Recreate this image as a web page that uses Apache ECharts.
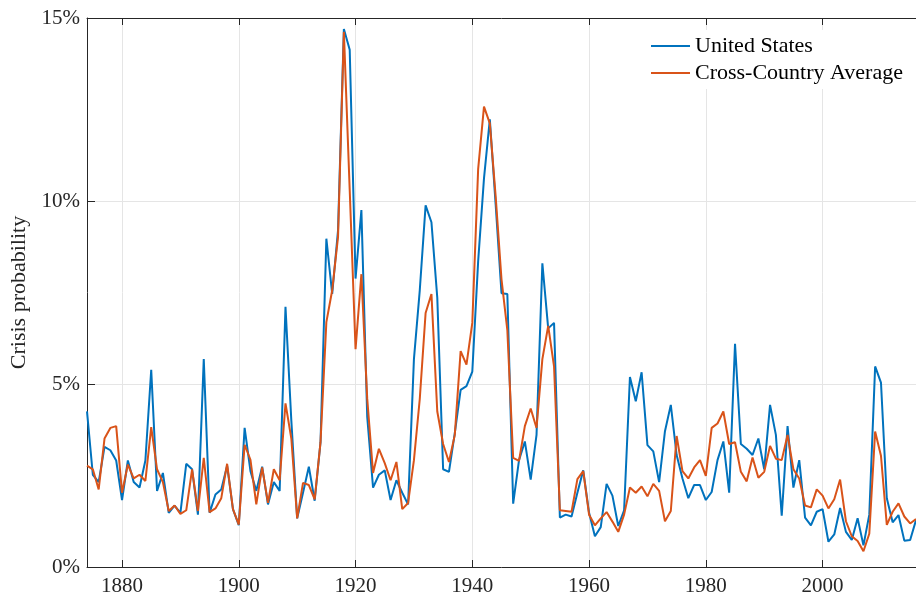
<!DOCTYPE html>
<html>
<head>
<meta charset="utf-8">
<script src="https://cdn.jsdelivr.net/npm/echarts@6/dist/echarts.min.js"></script>
<style>
html,body{margin:0;padding:0;background:#fff;}
#chart{width:916px;height:601px;}
</style>
</head>
<body>
<div id="chart"></div>
<script>
const startYear = 1874;
const endYear = 2016;
const xTicks = [1880, 1900, 1920, 1940, 1960, 1980, 2000];
const yTicks = [0, 5, 10, 15];
const seriesNames = ['United States', 'Cross-Country Average'];

const usValues = [
4.25,2.52,2.32,3.28,3.19,2.91,1.83,2.91,2.32,2.17,
2.91,5.39,2.08,2.57,1.48,1.68,1.48,2.82,2.67,1.43,
5.68,1.48,1.98,2.12,2.77,1.58,1.14,3.80,2.62,2.08,
2.74,1.71,2.32,2.08,7.11,4.00,1.33,2.03,2.74,1.81,
3.41,8.97,7.46,9.20,14.70,14.13,7.88,9.75,4.10,2.17,
2.52,2.64,1.83,2.37,2.03,1.71,5.68,7.56,9.88,9.42,
7.36,2.67,2.60,3.66,4.84,4.94,5.34,8.35,10.62,12.23,
9.90,7.48,7.46,1.73,2.92,3.43,2.39,3.61,8.30,6.52,
6.67,1.35,1.43,1.38,2.03,2.64,1.48,0.84,1.09,2.27,
1.95,1.12,1.55,5.19,4.53,5.32,3.33,3.16,2.32,3.71,
4.43,3.06,2.42,1.88,2.24,2.24,1.83,2.05,2.92,3.43,
2.03,6.10,3.36,3.23,3.06,3.51,2.67,4.43,3.61,1.40,
3.85,2.17,2.92,1.35,1.14,1.51,1.58,0.69,0.89,1.61,
0.96,0.74,1.33,0.59,1.43,5.48,5.04,1.88,1.22,1.42,
0.72,0.74,1.28
];

const avgValues = [
2.77,2.67,2.12,3.51,3.80,3.85,2.03,2.80,2.42,2.52,
2.35,3.82,2.67,2.32,1.53,1.68,1.45,1.55,2.67,1.53,
2.98,1.50,1.60,1.88,2.82,1.58,1.16,3.34,2.93,1.71,
2.72,1.75,2.67,2.37,4.47,3.51,1.33,2.30,2.24,1.85,
3.41,6.69,7.56,9.02,14.62,10.30,5.95,8.00,4.60,2.57,
3.23,2.84,2.37,2.87,1.58,1.75,2.92,4.59,6.94,7.46,
4.25,3.36,2.87,3.61,5.90,5.53,6.67,10.87,12.58,12.12,
10.13,7.86,6.47,2.98,2.90,3.85,4.33,3.80,5.68,6.59,
5.48,1.55,1.53,1.51,2.40,2.62,1.43,1.14,1.33,1.50,
1.24,0.96,1.43,2.17,2.03,2.20,1.93,2.27,2.08,1.25,
1.53,3.58,2.62,2.42,2.72,2.92,2.49,3.80,3.92,4.25,
3.36,3.41,2.60,2.34,2.99,2.44,2.60,3.31,2.96,2.92,
3.61,2.67,2.42,1.68,1.63,2.12,1.95,1.60,1.85,2.39,
1.25,0.84,0.71,0.43,0.91,3.70,3.04,1.15,1.51,1.74,
1.38,1.19,1.31
];

const years = [];
for (let y = startYear; y <= endYear; y++) years.push(y);
const toPairs = vals => vals.map((v, i) => [years[i], v]);

const FONT = '"Liberation Serif", "DejaVu Serif", serif';
const AX = '#262626';
const GRID = '#e5e5e5';

const chart = echarts.init(document.getElementById('chart'), null, {renderer: 'canvas'});

const xBase = {
  type: 'value', min: startYear, max: endYear,
  axisLine: {show: true, onZero: false, lineStyle: {color: AX, width: 1}},
  axisTick: {show: true, inside: true, length: 7, customValues: xTicks, lineStyle: {color: AX, width: 1}},
  splitLine: {show: false}
};

chart.setOption({
  animation: false,
  textStyle: {fontFamily: FONT},
  grid: {left: 87, right: 0, top: 18, bottom: 34, containLabel: false},
  legend: {
    data: seriesNames,
    orient: 'vertical',
    left: 646, top: 30,
    itemWidth: 39, itemHeight: 2, itemGap: 5,
    icon: 'rect',
    textStyle: {fontFamily: FONT, fontSize: 22, color: '#000'},
    backgroundColor: 'rgba(255,255,255,1)'
  },
  xAxis: [
    Object.assign({}, xBase, {
      position: 'bottom',
      axisLabel: {show: true, customValues: xTicks, formatter: v => String(v),
                  fontFamily: FONT, fontSize: 21, color: AX, margin: 9}
    }),
    Object.assign({}, xBase, {
      position: 'top',
      axisLabel: {show: false}
    })
  ],
  yAxis: {
    type: 'value', min: 0, max: 15, interval: 5,
    name: 'Crisis probability',
    nameLocation: 'middle', nameGap: 56,
    nameTextStyle: {fontFamily: FONT, fontSize: 22, color: AX},
    axisLine: {show: true, lineStyle: {color: AX, width: 1}},
    axisTick: {show: true, inside: true, length: 8, lineStyle: {color: AX, width: 1}},
    axisLabel: {formatter: '{value}%', fontFamily: FONT, fontSize: 21, color: AX, margin: 7},
    splitLine: {show: true, lineStyle: {color: GRID, width: 1}}
  },
  series: [
    {
      name: 'grid', type: 'line', data: [], z: -1, silent: true,
      markLine: {
        silent: true, symbol: 'none', z: -1,
        label: {show: false},
        lineStyle: {color: GRID, width: 1, type: 'solid'},
        data: xTicks.map(t => ({xAxis: t}))
      }
    },
    {
      name: seriesNames[0], type: 'line', data: toPairs(usValues),
      showSymbol: false, symbol: 'none', z: 3,
      lineStyle: {color: '#0072BD', width: 2}, itemStyle: {color: '#0072BD'}
    },
    {
      name: seriesNames[1], type: 'line', data: toPairs(avgValues),
      showSymbol: false, symbol: 'none', z: 4,
      lineStyle: {color: '#D95319', width: 2}, itemStyle: {color: '#D95319'}
    }
  ]
});
</script>
</body>
</html>
